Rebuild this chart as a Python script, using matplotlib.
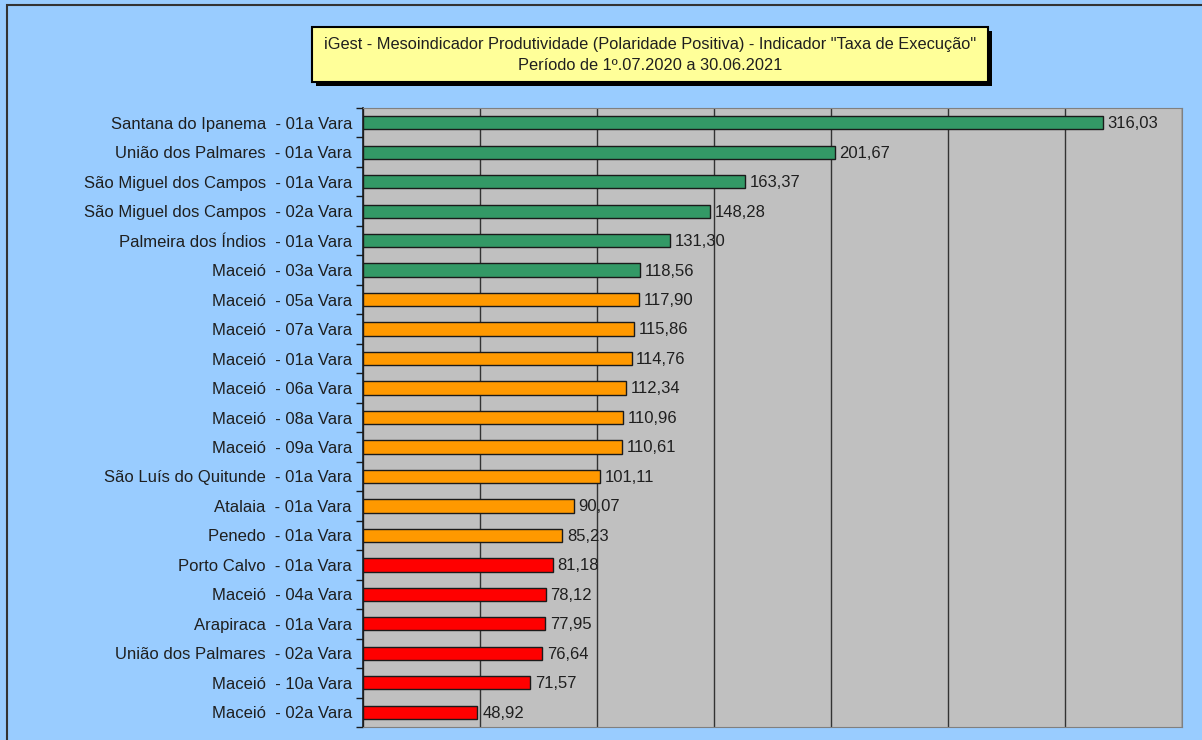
import matplotlib
matplotlib.use("Agg")
import matplotlib.pyplot as plt
from matplotlib.patches import Rectangle

categories = [
    "Santana do Ipanema  - 01a Vara",
    "União dos Palmares  - 01a Vara",
    "São Miguel dos Campos  - 01a Vara",
    "São Miguel dos Campos  - 02a Vara",
    "Palmeira dos Índios  - 01a Vara",
    "Maceió  - 03a Vara",
    "Maceió  - 05a Vara",
    "Maceió  - 07a Vara",
    "Maceió  - 01a Vara",
    "Maceió  - 06a Vara",
    "Maceió  - 08a Vara",
    "Maceió  - 09a Vara",
    "São Luís do Quitunde  - 01a Vara",
    "Atalaia  - 01a Vara",
    "Penedo  - 01a Vara",
    "Porto Calvo  - 01a Vara",
    "Maceió  - 04a Vara",
    "Arapiraca  - 01a Vara",
    "União dos Palmares  - 02a Vara",
    "Maceió  - 10a Vara",
    "Maceió  - 02a Vara",
]
values = [316.03, 201.67, 163.37, 148.28, 131.30, 118.56, 117.90, 115.86, 114.76,
          112.34, 110.96, 110.61, 101.11, 90.07, 85.23, 81.18, 78.12, 77.95, 76.64,
          71.57, 48.92]
groups = ["green"] * 6 + ["orange"] * 9 + ["red"] * 6
group_colors = {"green": "#339966", "orange": "#FF9900", "red": "#FF0000"}
title_lines = ['iGest - Mesoindicador Produtividade (Polaridade Positiva) - Indicador "Taxa de Execução"',
               "Período de 1º.07.2020 a 30.06.2021"]

plt.rcParams['font.family'] = ['Liberation Sans', 'DejaVu Sans']
TXT = "#1f1f1f"

W, H = 1202, 740
fig = plt.figure(figsize=(W / 100, H / 100), dpi=100)
fig.patch.set_facecolor("#99CCFF")

# figure frame
fig.patches.append(Rectangle((7 / W, -0.1), 1.2, 1 - 5 / H + 0.1, transform=fig.transFigure,
                             fill=False, edgecolor="#333333", linewidth=1.5, zorder=0))

ax = fig.add_axes([363 / W, 1 - 727 / H, (1182 - 363) / W, (727 - 108) / H])
ax.set_facecolor("#C0C0C0")

n = len(categories)
ypos = list(range(n))
colors = [group_colors[g] for g in groups]
ax.barh(ypos, values, height=0.45, color=colors, edgecolor="#1a1a1a", linewidth=1.0, zorder=3)
for y, v in zip(ypos, values):
    ax.text(v + 2, y + 0.03, f"{v:.2f}".replace(".", ","), va="center", ha="left",
            fontsize=12, color=TXT, zorder=4)

ax.set_xlim(0, 350)
ax.set_ylim(n - 0.5, -0.5)
ax.set_xticks(range(0, 351, 50))
ax.xaxis.grid(True, color="#333333", linewidth=1.0, zorder=1)
ax.tick_params(axis="x", length=0, labelbottom=False)
ax.set_yticks(ypos)
ax.set_yticklabels(categories, fontsize=12, color=TXT)
ax.tick_params(axis="y", length=0, pad=8)
ax.set_yticks([i + 0.5 for i in range(-1, n)], minor=True)
ax.tick_params(axis="y", which="minor", length=5, width=1, color="#1a1a1a", direction="out")
for s in ["top", "right", "bottom"]:
    ax.spines[s].set_color("#808080")
ax.spines["left"].set_color("#1a1a1a")
ax.spines["left"].set_linewidth(1.2)

# title box with shadow
bx0, by0, bx1, by1 = 312, 27, 988, 82
fig.patches.append(Rectangle(((bx0 + 4) / W, 1 - (by1 + 4) / H), (bx1 - bx0) / W, (by1 - by0) / H,
                             transform=fig.transFigure, facecolor="#000000", edgecolor="none", zorder=5))
fig.patches.append(Rectangle((bx0 / W, 1 - by1 / H), (bx1 - bx0) / W, (by1 - by0) / H,
                             transform=fig.transFigure, facecolor="#FFFF99", edgecolor="#000000",
                             linewidth=1.5, zorder=6))
fig.text((bx0 + bx1) / 2 / W, 1 - 45 / H, title_lines[0], ha="center", va="center",
         fontsize=11.8, color=TXT, zorder=7)
fig.text((bx0 + bx1) / 2 / W, 1 - 66 / H, title_lines[1], ha="center", va="center",
         fontsize=11.8, color=TXT, zorder=7)

fig.savefig("out.png", dpi=100, facecolor=fig.get_facecolor())
